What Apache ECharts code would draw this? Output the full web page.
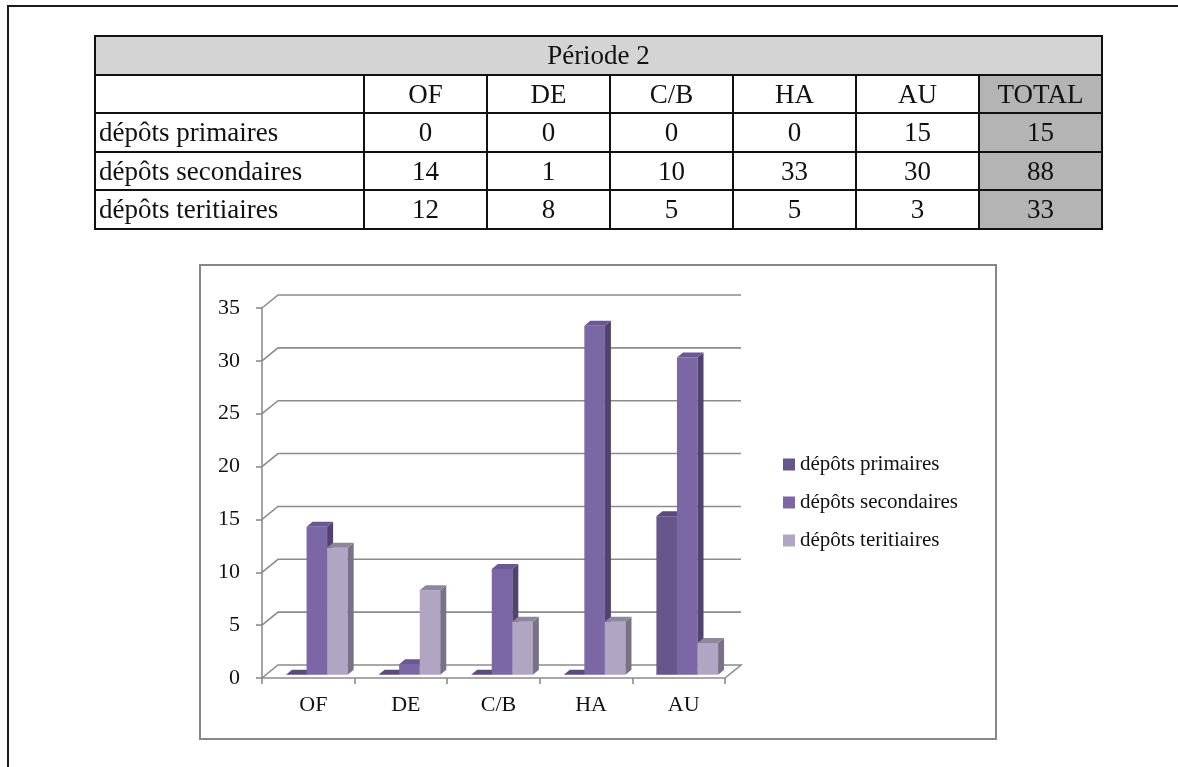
<!DOCTYPE html>
<html>
<head>
<meta charset="utf-8">
<script src="https://cdn.jsdelivr.net/npm/echarts@6/dist/echarts.min.js"></script>
<style>
  html, body { margin: 0; padding: 0; background: #fff; }
  body { width: 1178px; height: 767px; position: relative; overflow: hidden; font-family: "Liberation Serif", "DejaVu Serif", serif; }
  #page { position: absolute; left: 7px; top: 5px; width: 1300px; height: 900px; border-top: 2px solid #1a1a1a; border-left: 2px solid #1a1a1a; }
  #tbl { position: absolute; left: 94px; top: 35px; border-collapse: collapse; z-index: 2; font-size: 27px; color: #111; }
  #tbl td { border: 2px solid #111; padding: 0; height: 36.6px; line-height: 36.6px; text-align: center; }
  #tbl td.lbl { text-align: left; padding-left: 3px; width: 264px; }
  #tbl td.num { width: 121px; }
  #tbl tr.title td { background: #d4d4d4; }
  #tbl td.tot { background: #b4b4b4; }
  #chart { position: absolute; left: 0; top: 0; width: 1178px; height: 767px; z-index: 1; }
</style>
</head>
<body>
<div id="page"></div>
<table id="tbl"></table>
<div id="chart"></div>
<script>
// Période 2 – dépôts par site
const tableTitle = 'Période 2';
const categories = ['OF', 'DE', 'C/B', 'HA', 'AU'];
const seriesNames = ['dépôts primaires', 'dépôts secondaires', 'dépôts teritiaires'];
const primaires = [0, 0, 0, 0, 15];
const secondaires = [14, 1, 10, 33, 30];
const tertiaires = [12, 8, 5, 5, 3];
const totalLabel = 'TOTAL';
const yTicks = [0, 5, 10, 15, 20, 25, 30, 35];

// ---- summary table ----
const rows = [primaires, secondaires, tertiaires];
const tbl = document.getElementById('tbl');
let html = '<tr class="title"><td colspan="' + (categories.length + 2) + '">' + tableTitle + '</td></tr>';
html += '<tr><td class="lbl"></td>' + categories.map(c => '<td class="num">' + c + '</td>').join('') +
        '<td class="num tot">' + totalLabel + '</td></tr>';
rows.forEach((vals, i) => {
  const total = vals.reduce((a, b) => a + b, 0);
  html += '<tr><td class="lbl">' + seriesNames[i] + '</td>' +
          vals.map(v => '<td class="num">' + v + '</td>').join('') +
          '<td class="num tot">' + total + '</td></tr>';
});
tbl.innerHTML = html;

// ---- pseudo-3D column chart ----
const DEPTH = [16, -13];      // back wall offset
const BAR_OFF = [4, -3.3];    // bar front face offset from the front floor edge
const BAR_DEPTH = [6, -5];    // thickness of each column
const palette = [
  { front: '#67568a', side: '#4b3e66', top: '#5a4b7c' },
  { front: '#7b67a6', side: '#51426f', top: '#6a5894' },
  { front: '#b0a6c3', side: '#797286', top: '#8e869e' }
];
const font = '"Liberation Serif", "DejaVu Serif", serif';

function gridRender(params, api) {
  const v = api.value(0);
  const bw = api.size([1, 0])[0];
  const first = api.coord([0, v]);
  const last = api.coord([categories.length - 1, v]);
  const x0 = first[0] - bw / 2, x1 = last[0] + bw / 2, y = first[1];
  const pts = [[x0, y], [x0 + DEPTH[0], y + DEPTH[1]], [x1 + DEPTH[0], y + DEPTH[1]]];
  if (v === 0) pts.push([x1, y]);
  return {
    type: 'polyline',
    shape: { points: pts },
    style: { stroke: '#8c8c8c', lineWidth: 1.6, fill: null }
  };
}

function barRender(slot) {
  const c = palette[slot];
  return function (params, api) {
    const idx = api.value(0);
    const base = api.coord([idx, 0]);
    const top = api.coord([idx, api.value(1)]);
    const bw = api.size([1, 0])[0];
    const w = bw * 0.222;
    const x = base[0] - bw / 2 + bw * 0.216 + slot * w + BAR_OFF[0];
    const yb = base[1] + BAR_OFF[1];
    const yt = top[1] + BAR_OFF[1];
    const dx = BAR_DEPTH[0], dy = BAR_DEPTH[1];
    const children = [];
    if (yb - yt > 0.5) {
      children.push({ type: 'rect', shape: { x: x, y: yt, width: w, height: yb - yt }, style: { fill: c.front } });
      children.push({ type: 'polygon', shape: { points: [[x + w, yt], [x + w + dx, yt + dy], [x + w + dx, yb + dy], [x + w, yb]] }, style: { fill: c.side } });
    }
    children.push({ type: 'polygon', shape: { points: [[x, yt], [x + dx, yt + dy], [x + w + dx, yt + dy], [x + w, yt]] }, style: { fill: c.top } });
    return { type: 'group', children: children };
  };
}

const chart = echarts.init(document.getElementById('chart'), null, { renderer: 'canvas' });
const dataSets = [primaires, secondaires, tertiaires];

chart.setOption({
  animation: false,
  textStyle: { fontFamily: font },
  graphic: [{
    type: 'rect', left: 199, top: 264, z: -10,
    shape: { width: 796, height: 474 },
    style: { fill: '#fff', stroke: '#878787', lineWidth: 2 }
  }],
  grid: { left: 262, top: 308, width: 463, height: 370 },
  xAxis: {
    type: 'category',
    data: categories,
    axisLine: { lineStyle: { color: '#8c8c8c', width: 1.6 } },
    axisTick: { show: true, length: 6, lineStyle: { color: '#8c8c8c', width: 1.6 } },
    axisLabel: { color: '#111', fontSize: 22, fontFamily: font, margin: 16, padding: [0, 0, 0, 10] },
    splitLine: { show: false }
  },
  yAxis: {
    type: 'value', min: 0, max: 35, interval: 5,
    axisLine: { show: true, lineStyle: { color: '#8c8c8c', width: 1.6 } },
    axisTick: { show: true, length: 6, lineStyle: { color: '#8c8c8c', width: 1.6 } },
    axisLabel: { color: '#111', fontSize: 22, fontFamily: font, margin: 22 },
    splitLine: { show: false }
  },
  legend: {
    orient: 'vertical', left: 778, top: 449, itemGap: 17,
    itemWidth: 12, itemHeight: 12, icon: 'rect',
    textStyle: { fontSize: 21, fontFamily: font, color: '#111' },
    data: seriesNames
  },
  series: [{
    type: 'custom', name: 'grille', silent: true, z: 1,
    renderItem: gridRender,
    data: yTicks.map(v => [v]),
    encode: { y: 0 }
  }].concat(dataSets.map((vals, s) => ({
    type: 'custom',
    name: seriesNames[s],
    z: 2,
    itemStyle: { color: palette[s].front },
    renderItem: barRender(s),
    data: vals.map((v, i) => [i, v]),
    encode: { x: 0, y: 1 }
  })))
});
</script>
</body>
</html>
